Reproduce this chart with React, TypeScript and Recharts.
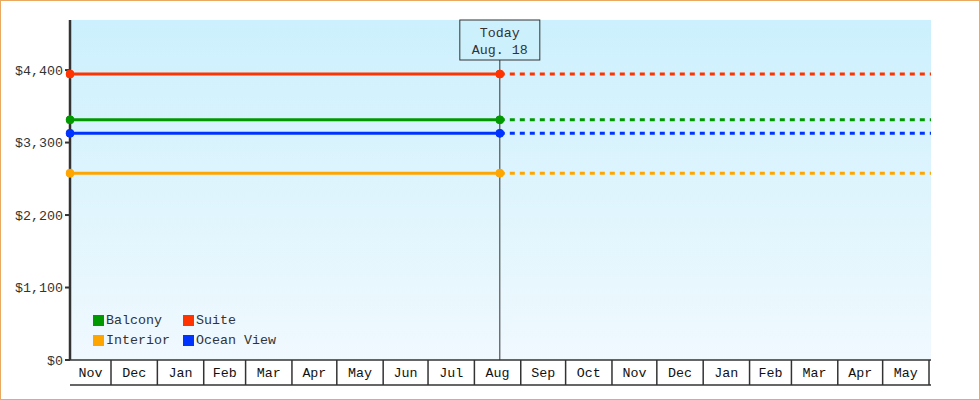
import React from "react";
import { LineChart, Line, XAxis, YAxis, CartesianGrid, ReferenceLine } from "recharts";

const FONT = '"Liberation Mono", "DejaVu Sans Mono", monospace';
const FONT_SIZE = 13.33;
const INK = "#333333";

const SERIES_NAMES = ["Balcony", "Suite", "Interior", "Ocean View"];
const SERIES_COLORS = ["#009900", "#ff3300", "#ffa500", "#0033ff"];
const SERIES_PRICES = [3645, 4340, 2835, 3440];

const RANGE_START = "2017-11-03T14:00:00Z";
const TODAY = "2018-08-18T00:00:00Z";
const RANGE_END = "2019-06-02T08:00:00Z";
const TODAY_LABEL = ["Today", "Aug. 18"];

const MONTH_STARTS = [
  "2017-11-01", "2017-12-01", "2018-01-01", "2018-02-01", "2018-03-01",
  "2018-04-01", "2018-05-01", "2018-06-01", "2018-07-01", "2018-08-01",
  "2018-09-01", "2018-10-01", "2018-11-01", "2018-12-01", "2019-01-01",
  "2019-02-01", "2019-03-01", "2019-04-01", "2019-05-01", "2019-06-01",
];
const MONTH_LABELS = [
  "Nov", "Dec", "Jan", "Feb", "Mar", "Apr", "May", "Jun", "Jul", "Aug",
  "Sep", "Oct", "Nov", "Dec", "Jan", "Feb", "Mar", "Apr", "May",
];

const Y_TICKS = [0, 1100, 2200, 3300, 4400];
const Y_MAX = 5160;

const DAY_MS = 86400000;
const toDay = (s: string) => Date.parse(s) / DAY_MS;

const dStart = toDay(RANGE_START);
const dToday = toDay(TODAY);
const dEnd = toDay(RANGE_END);

// month boundaries inside the range -> separators; centres of visible month spans -> labels
const boundaryDays = MONTH_STARTS.map(toDay);
const separatorTicks = boundaryDays.filter((d) => d > dStart && d < dEnd);
const labelTicks: number[] = [];
const labelByTick = new Map<number, string>();
MONTH_LABELS.forEach((lab, i) => {
  const a = Math.max(boundaryDays[i], dStart);
  const b = Math.min(boundaryDays[i + 1], dEnd);
  const mid = (a + b) / 2;
  labelTicks.push(mid);
  labelByTick.set(mid, lab);
});
const allXTicks = [...separatorTicks, ...labelTicks];

const rows = [dStart, dToday, dEnd].map((t, i) => {
  const row: Record<string, number | null> = { t };
  SERIES_NAMES.forEach((name, k) => {
    row[name] = i < 2 ? SERIES_PRICES[k] : null;
    row[name + "_f"] = i > 0 ? SERIES_PRICES[k] : null;
  });
  return row;
});

const XTick = (props: any) => {
  const { x, y, payload } = props;
  const v = payload.value;
  const lab = labelByTick.get(v);
  if (lab === undefined) {
    return <line x1={x} x2={x} y1={y} y2={y + 25} stroke={INK} strokeWidth={1.5} />;
  }
  return (
    <text x={x} y={y + 17} textAnchor="middle" fill="#111" fontFamily={FONT} fontSize={FONT_SIZE}>
      {lab}
    </text>
  );
};

const TodayLabel = (props: any) => {
  const vb = props.viewBox || {};
  const cx = vb.x;
  const top = vb.y;
  return (
    <g>
      <rect x={cx - 40} y={top} width={80} height={40} fill="#cdf0fd" stroke={INK} strokeWidth={1} />
      <text x={cx} y={top + 17} textAnchor="middle" fill={INK} fontFamily={FONT} fontSize={FONT_SIZE}>
        {TODAY_LABEL[0]}
      </text>
      <text x={cx} y={top + 34} textAnchor="middle" fill={INK} fontFamily={FONT} fontSize={FONT_SIZE}>
        {TODAY_LABEL[1]}
      </text>
    </g>
  );
};

const LegendBox = () => (
  <div
    style={{
      position: "absolute",
      left: 93,
      top: 312,
      display: "grid",
      gridTemplateColumns: "90px 110px",
      rowGap: 3,
      fontFamily: FONT,
      fontSize: FONT_SIZE,
      color: INK,
      lineHeight: "17px",
    }}
  >
    {SERIES_NAMES.map((name, i) => (
      <div key={name} style={{ display: "flex", alignItems: "center", whiteSpace: "nowrap" }}>
        <span style={{ display: "inline-block", width: 11, height: 11, background: SERIES_COLORS[i], marginRight: 2 }} />
        <span>{name}</span>
      </div>
    ))}
  </div>
);

export default function App() {
  return (
    <div style={{ position: "absolute", left: 0, top: 0, width: 980, height: 400, background: "#fff" }}>
      <LineChart width={980} height={400} data={rows} margin={{ top: 20, right: 49, bottom: 14, left: 0 }}>
        <defs>
          <linearGradient id="plotBg" x1="0" y1="0" x2="0" y2="1">
            <stop offset="0%" stopColor="#ccf0fd" />
            <stop offset="100%" stopColor="#f0f9fe" />
          </linearGradient>
        </defs>
        <CartesianGrid horizontal={false} vertical={false} fill="url(#plotBg)" fillOpacity={1} stroke="none" />
        <XAxis
          dataKey="t"
          type="number"
          domain={[dStart, dEnd]}
          allowDataOverflow
          ticks={allXTicks}
          interval={0}
          tick={<XTick />}
          tickLine={false}
          tickSize={0}
          tickMargin={0}
          axisLine={{ stroke: INK, strokeWidth: 1.5 }}
          height={25}
        />
        <XAxis
          xAxisId="frame"
          dataKey="t"
          type="number"
          domain={[dStart, dEnd]}
          allowDataOverflow
          ticks={[]}
          tick={false}
          tickLine={false}
          axisLine={{ stroke: INK, strokeWidth: 1.5 }}
          height={1}
        />
        <YAxis
          type="number"
          domain={[0, Y_MAX]}
          allowDataOverflow
          ticks={Y_TICKS}
          interval={0}
          width={70}
          tickSize={5}
          tickMargin={2}
          tickFormatter={(v: number) => "$" + v.toLocaleString("en-US")}
          tick={{ fill: INK, fontFamily: FONT, fontSize: FONT_SIZE }}
          tickLine={{ stroke: INK, strokeWidth: 2 }}
          axisLine={{ stroke: INK, strokeWidth: 2.5 }}
        />
        <ReferenceLine x={dToday} stroke={INK} strokeWidth={1} label={(p: any) => <TodayLabel {...p} />} />
        {SERIES_NAMES.map((name, i) => (
          <Line
            key={name}
            dataKey={name}
            stroke={SERIES_COLORS[i]}
            strokeWidth={3}
            dot={{ r: 4, fill: SERIES_COLORS[i], stroke: SERIES_COLORS[i], strokeWidth: 1, clipDot: false }}
            activeDot={false}
            isAnimationActive={false}
            legendType="none"
          />
        ))}
        {SERIES_NAMES.map((name, i) => (
          <Line
            key={name + "_f"}
            dataKey={name + "_f"}
            stroke={SERIES_COLORS[i]}
            strokeWidth={3}
            strokeDasharray="5 5"
            dot={false}
            activeDot={false}
            isAnimationActive={false}
            legendType="none"
          />
        ))}
      </LineChart>
      <LegendBox />
      <div
        style={{
          position: "absolute",
          left: 0,
          top: 0,
          width: 980,
          height: 400,
          boxSizing: "border-box",
          border: "1px solid #eaa960",
          pointerEvents: "none",
        }}
      />
    </div>
  );
}
